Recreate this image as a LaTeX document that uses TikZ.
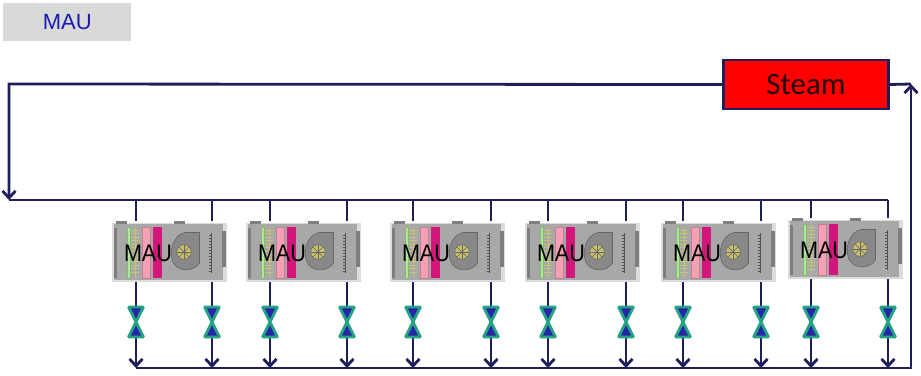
\documentclass[tikz,border=0pt]{standalone}
\usepackage{fontspec}
\setmainfont{Liberation Sans}
\newfontfamily\steamfont{Carlito}
\usetikzlibrary{arrows.meta}

\definecolor{pipeblue}{HTML}{1E1E5C}
\definecolor{titlegray}{HTML}{D9D9D9}
\definecolor{titleblue}{HTML}{1A1AB0}
\definecolor{steamred}{HTML}{FF0000}
\definecolor{bodygray}{HTML}{A8A8A8}
\definecolor{halogray}{HTML}{DCDCDC}
\definecolor{sidegray}{HTML}{7E7E7E}
\definecolor{coilgreen}{HTML}{B3E2A0}
\definecolor{coiledge}{HTML}{7FBF6A}
\definecolor{finyellow}{HTML}{C9C27A}
\definecolor{filterpink}{HTML}{F5A0B4}
\definecolor{filtermag}{HTML}{D2167C}
\definecolor{fangray}{HTML}{888888}
\definecolor{fanedge}{HTML}{666666}
\definecolor{rotor}{HTML}{C8BE6C}
\definecolor{valveteal}{HTML}{25A184}
\definecolor{valveblue}{HTML}{2626A6}

\tikzset{
  pipe/.style={draw=pipeblue, line width=2.8pt},
  flow/.style={pipe, -{Straight Barb[length=7pt,width=13pt]}},
  unitbox/.style={anchor=north west, minimum width=111pt, minimum height=59pt,
    inner sep=0pt, outer sep=0pt},
  valvebox/.style={minimum width=18pt, minimum height=34pt, inner sep=0pt},
  valveshape/.style={fill=valveblue, draw=valveteal, line width=2.8pt, line join=bevel},
  steambox/.style={fill=steamred, draw=pipeblue, line width=2.2pt,
    minimum width=165pt, minimum height=49pt, inner sep=0pt,
    font=\steamfont\fontsize{31}{31}\selectfont, text=black!85!red},
  titlebox/.style={anchor=north west, fill=titlegray, minimum width=128pt,
    minimum height=38pt, inner sep=0pt, text=titleblue,
    font=\fontsize{22}{22}\selectfont},
  % air-handling unit drawn from its top-left corner (y grows downward)
  mau/.pic={
    \fill[halogray] (-1.5,1.5) rectangle (113.5,60.5);
    \fill[sidegray] (3,0) rectangle (14,4);
    \fill[sidegray] (61,0) rectangle (72,4);
    \fill[bodygray] (1,3) rectangle (110,59);
    \fill[sidegray] (0.5,7) rectangle (4,57);
    \fill[sidegray] (109,10) rectangle (112.5,46);
    \foreach \yy in {9,12.5,...,54} \draw[finyellow, line width=0.7pt] (17.5,\yy) -- (26,\yy);
    \draw[finyellow, line width=0.6pt] (22,7) -- (22,56);
    \filldraw[fill=coilgreen, draw=coiledge, line width=0.5pt] (14,6) rectangle (17.5,57);
    \filldraw[fill=filterpink, draw=filterpink!80!black, line width=0.4pt] (29,6) rectangle (37.5,57);
    \fill[filtermag] (40,6) rectangle (49,57);
    \filldraw[fill=fangray, draw=fanedge, line width=0.6pt]
      (86.5,11.5) -- (86.5,42) .. controls (81,51) and (64,52) .. (59.5,40)
      .. controls (56,30) and (60,14) .. (72,11.5) -- cycle;
    \filldraw[fill=rotor, draw=fanedge, line width=0.5pt] (71,31) circle (7.3);
    \foreach \ang in {0,45,...,315} \draw[fanedge, line width=0.4pt] (71,31) -- ++(\ang:6.8);
    \draw[fanedge!80!black, line width=1.4pt] (98.5,12) -- (98.5,52);
    \foreach \yy in {14,17,...,50} \draw[fanedge!80!black, line width=0.5pt] (98.5,\yy) -- (96,\yy);
    \node[font=\fontsize{24}{24}\selectfont, xscale=0.9, text=black, inner sep=0pt]
      at (35,32.5) {MAU};
  },
  valve/.pic={
    \filldraw[valveshape] (-7.5,-15) -- (7.5,-15) -- (-7.5,15) -- (7.5,15) -- cycle;
  }
}

\begin{document}
\begin{tikzpicture}[x=1pt, y=-1pt]
  \useasboundingbox (0,0) rectangle (921,375);

  \node[titlebox] (title) at (3,3) {MAU};
  \node[steambox] (steam) at (806,84.5) {Steam};

  % header corners
  \coordinate (cornerL) at (9,84);
  \coordinate (cornerR) at (911,84);
  \coordinate (supplyL) at (9,200);
  \coordinate (supplyR) at (888,200);
  \coordinate (returnL) at (136,368);
  \coordinate (returnR) at (911,368);

  % units
  \foreach \n/\ux/\uy in {1/113/221, 2/247/221, 3/391/221, 4/526/221, 5/662/221, 6/789/218}
    \node[unitbox] (u\n) at (\ux,\uy) {};

  % supply loop from the steam source
  \draw[flow] (steam.west) -- (cornerL) -- (supplyL);
  \draw[pipe] (supplyL) -- (supplyR);
  % return header back to the steam source
  \draw[flow] (returnL) -- (returnR) -- (cornerR);
  \draw[pipe] (steam.east) -- (cornerR);

  % branches: supply drop, unit, valve, return
  \foreach \n/\xa/\xb in {1/136/212, 2/270/347, 3/413/491, 4/548/626, 5/683/761, 6/811/888} {
    \node[valvebox] (v\n a) at (\xa,322) {};
    \node[valvebox] (v\n b) at (\xb,322) {};
    \coordinate (s\n a) at (\xa,200);
    \coordinate (s\n b) at (\xb,200);
    \coordinate (r\n a) at (\xa,368);
    \coordinate (r\n b) at (\xb,368);
    \draw[pipe] (s\n a) -- (s\n a |- u\n.north);
    \draw[pipe] (s\n b) -- (s\n b |- u\n.north);
    \draw[flow] (v\n a |- u\n.south) -- (r\n a);
    \draw[flow] (v\n b |- u\n.south) -- (r\n b);
    \pic at (u\n.north west) {mau};
    \pic at (v\n a) {valve};
    \pic at (v\n b) {valve};
  }
\end{tikzpicture}
\end{document}
